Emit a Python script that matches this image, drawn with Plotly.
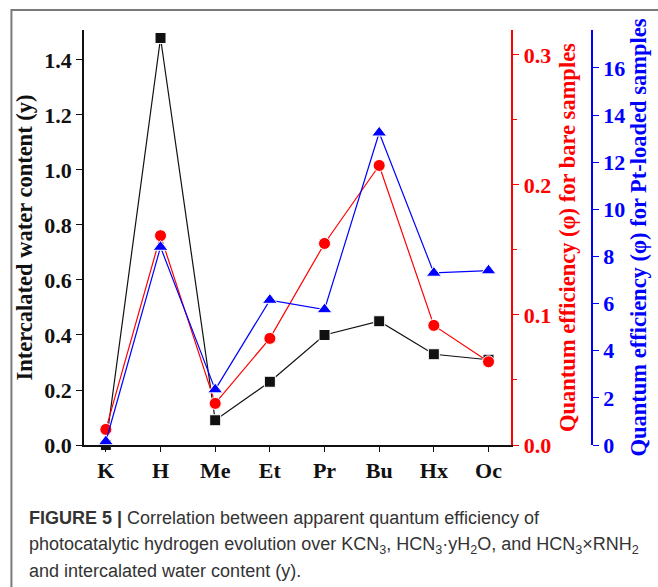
import plotly.graph_objects as go

# Sample series (x categories) and the three measured quantities
samples = ["K", "H", "Me", "Et", "Pr", "Bu", "Hx", "Oc"]
water_content = [0.0, 1.48, 0.09, 0.23, 0.40, 0.45, 0.33, 0.31]          # y, left axis
qe_bare = [0.012, 0.161, 0.032, 0.082, 0.155, 0.215, 0.092, 0.064]        # red axis
qe_pt = [0.15, 8.4, 2.35, 6.15, 5.75, 13.25, 7.3, 7.4]                    # blue axis

left_ticks = [0.0, 0.2, 0.4, 0.6, 0.8, 1.0, 1.2, 1.4]
red_ticks = [0.0, 0.1, 0.2, 0.3]
blue_ticks = [0, 2, 4, 6, 8, 10, 12, 14, 16]

W, H = 658, 587
L, R, T, B = 84, 63, 30, 142
PW, PH = W - L - R, H - T - B


def px_x(p):
    return (p - L) / PW


def px_y(p):
    return (H - B - p) / PH


SERIF = "Liberation Serif"
BLACK = "#111111"
RED = "#ff0000"
BLUE = "#0000ff"

fig = go.Figure()

fig.add_trace(go.Scatter(
    x=samples, y=water_content, mode="lines+markers", yaxis="y",
    line=dict(color=BLACK, width=1.2),
    marker=dict(symbol="square", size=11, color=BLACK, line=dict(color="white", width=1)),
    cliponaxis=False, showlegend=False,
))
fig.add_trace(go.Scatter(
    x=samples, y=qe_bare, mode="lines+markers", yaxis="y2",
    line=dict(color=RED, width=1.2),
    marker=dict(symbol="circle", size=12, color=RED, line=dict(color="white", width=1)),
    cliponaxis=False, showlegend=False,
))
fig.add_trace(go.Scatter(
    x=samples, y=qe_pt, mode="lines+markers", yaxis="y3",
    line=dict(color=BLUE, width=1.2),
    marker=dict(symbol="triangle-up", size=13, color=BLUE, line=dict(color="white", width=1)),
    cliponaxis=False, showlegend=False,
))


def tick_font(c):
    return dict(family=SERIF, size=22, color=c, weight="bold")


def title_font(c):
    return dict(family=SERIF, size=22.5, color=c, weight="bold")


fig.update_layout(
    width=W, height=H,
    margin=dict(l=L, r=R, t=T, b=B),
    paper_bgcolor="white", plot_bgcolor="white",
    xaxis=dict(
        domain=[0, px_x(514)], range=[-0.4, 7.42], type="category",
        showline=True, linecolor=BLACK, linewidth=1.5, mirror=False,
        ticks="outside", ticklen=5, tickcolor=BLACK, tickwidth=1.2,
        tickfont=tick_font(BLACK), showgrid=False, zeroline=False,
    ),
    yaxis=dict(
        range=[0, 1.509], tickvals=left_ticks, tickformat=".1f",
        showline=True, linecolor=BLACK, linewidth=1.5,
        ticks="outside", ticklen=6, tickcolor=BLACK, tickwidth=1.2,
        tickfont=tick_font(BLACK), showgrid=False, zeroline=False,
        title=dict(text="Intercalated water content (y)",
                   font=title_font(BLACK), standoff=5),
    ),
    yaxis2=dict(
        overlaying="y", side="right", anchor="x",
        range=[0, 0.3192], tickvals=red_ticks, tickformat=".1f",
        showline=True, linecolor=RED, linewidth=1.5,
        ticks="outside", ticklen=6, tickcolor=RED, tickwidth=1.2,
        minor=dict(dtick=0.05, ticks="outside", ticklen=4, tickcolor=RED, tickwidth=1.2),
        tickfont=tick_font(RED), showgrid=False, zeroline=False,
        title=dict(text="Quantum efficiency (φ) for bare samples",
                   font=title_font(RED), standoff=9),
    ),
    yaxis3=dict(
        overlaying="y", side="right", anchor="free", position=1.0,
        range=[0, 17.61], tickvals=blue_ticks,
        showline=True, linecolor=BLUE, linewidth=1.5,
        ticks="outside", ticklen=6, tickcolor=BLUE, tickwidth=1.2,
        tickfont=tick_font(BLUE), showgrid=False, zeroline=False,
        title=dict(text="Quantum efficiency (φ) for Pt-loaded samples",
                   font=title_font(BLUE), standoff=5),
    ),
)

# Open frame around the figure panel
fig.add_shape(
    type="path", xref="paper", yref="paper",
    path=f"M {px_x(11)} {px_y(600)} L {px_x(11)} {px_y(10)} L {px_x(670)} {px_y(10)}",
    line=dict(color="#7a7a7a", width=2),
)

# Figure caption
CAP = "Liberation Sans"
cap_lines = [
    "<b>FIGURE 5 |</b> Correlation between apparent quantum efficiency of",
    "photocatalytic hydrogen evolution over KCN<sub>3</sub>, HCN<sub>3</sub>·yH<sub>2</sub>O, "
    "and HCN<sub>3</sub>×RNH<sub>2</sub>",
    "and intercalated water content (y).",
]
for text, yc in zip(cap_lines, [518, 545, 571]):
    fig.add_annotation(
        text=text, xref="paper", yref="paper", x=px_x(27), y=px_y(yc),
        xanchor="left", yanchor="middle", showarrow=False,
        font=dict(family=CAP, size=18, color="#333333"),
    )

fig.write_html("out.html")
